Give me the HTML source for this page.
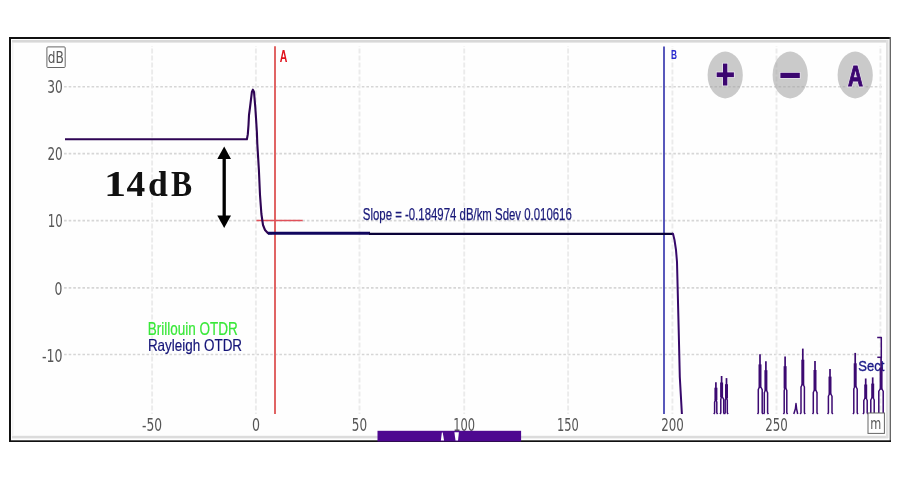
<!DOCTYPE html>
<html><head><meta charset="utf-8">
<style>
html,body{margin:0;padding:0;background:#fff;width:900px;height:479px;overflow:hidden}
svg{display:block;position:absolute;left:0;top:0}
</style></head><body>
<svg width="900" height="479" viewBox="0 0 900 479" font-family="'Liberation Sans', Arial, sans-serif">
<!-- frame -->
<rect x="0" y="0" width="900" height="479" fill="#fff"/>
<rect x="12" y="43" width="875" height="393" fill="#fefefe"/>
<rect x="12" y="40" width="876" height="2.6" fill="#d8d8d8"/>
<rect x="12" y="435.8" width="876" height="2.6" fill="#dcdcdc"/>
<rect x="886" y="40" width="2.5" height="398" fill="#e0e0e0"/>
<rect x="12" y="43" width="1.5" height="393" fill="#f3f3f3"/>
<rect x="9" y="37" width="2" height="405" fill="#111"/>
<rect x="9" y="37" width="882" height="2" fill="#111"/>
<rect x="889.6" y="37" width="1.4" height="405" fill="#666"/>
<rect x="9" y="440.3" width="882" height="1.7" fill="#111"/>

<!-- grid -->
<g stroke="#d6d6d6" stroke-width="1.6" stroke-dasharray="2.6 1.98" fill="none">
<line x1="64.1" y1="86.8" x2="884" y2="86.8"/>
<line x1="64.1" y1="153.6" x2="884" y2="153.6"/>
<line x1="64.1" y1="220.6" x2="884" y2="220.6"/>
<line x1="64.1" y1="287.9" x2="884" y2="287.9"/>
<line x1="64.1" y1="354.5" x2="884" y2="354.5"/>
</g>
<g stroke="#ebebeb" stroke-width="1.9" stroke-dasharray="5 2" stroke-dashoffset="4.4" fill="none">
<line x1="152.1" y1="46" x2="152.1" y2="414"/>
<line x1="255.9" y1="46" x2="255.9" y2="414"/>
<line x1="359.5" y1="46" x2="359.5" y2="414"/>
<line x1="464.2" y1="46" x2="464.2" y2="414"/>
<line x1="568.1" y1="46" x2="568.1" y2="414"/>
<line x1="672.4" y1="46" x2="672.4" y2="414"/>
<line x1="776.5" y1="46" x2="776.5" y2="414"/>
<line x1="880.4" y1="46" x2="880.4" y2="414"/>
</g>

<!-- axis labels -->
<g fill="#555" font-size="18.3" font-family="'DejaVu Sans', sans-serif">
<g text-anchor="end">
<text x="62.7" y="92.7" textLength="15.5" lengthAdjust="spacingAndGlyphs">30</text>
<text x="62.7" y="159.5" textLength="15.3" lengthAdjust="spacingAndGlyphs">20</text>
<text x="62.7" y="227" textLength="15" lengthAdjust="spacingAndGlyphs">10</text>
<text x="62.5" y="295.1" textLength="7.9" lengthAdjust="spacingAndGlyphs">0</text>
<text x="62.5" y="361.6" textLength="20.5" lengthAdjust="spacingAndGlyphs">-10</text>
</g>
<g text-anchor="middle">
<text x="152" y="430.8" textLength="20" lengthAdjust="spacingAndGlyphs">-50</text>
<text x="255.9" y="430.8" textLength="8" lengthAdjust="spacingAndGlyphs">0</text>
<text x="359.5" y="430.8" textLength="15.3" lengthAdjust="spacingAndGlyphs">50</text>
<text x="464.1" y="430.8" textLength="21.8" lengthAdjust="spacingAndGlyphs">100</text>
<text x="567.8" y="430.8" textLength="21.8" lengthAdjust="spacingAndGlyphs">150</text>
<text x="672.5" y="430.8" textLength="22.6" lengthAdjust="spacingAndGlyphs">200</text>
<text x="776.5" y="430.8" textLength="22.6" lengthAdjust="spacingAndGlyphs">250</text>
</g>
</g>
<!-- dB box -->
<rect x="46.9" y="46.9" width="18.3" height="20.6" rx="1" fill="none" stroke="#666" stroke-width="1"/>
<text x="47.8" y="62.6" font-size="16.5" font-family="'DejaVu Sans', sans-serif" fill="#555" textLength="16" lengthAdjust="spacingAndGlyphs">dB</text>

<!-- markers -->
<line x1="275" y1="46.3" x2="275" y2="414" stroke="#e06464" stroke-width="2"/>
<text x="279.8" y="61.9" font-size="16.5" font-weight="bold" fill="#e0101a" textLength="7.6" lengthAdjust="spacingAndGlyphs">A</text>
<line x1="664" y1="46.6" x2="664" y2="414" stroke="#4646b4" stroke-width="1.8"/>
<text x="671" y="58.8" font-size="12.5" font-weight="bold" fill="#2a2ad0" textLength="6" lengthAdjust="spacingAndGlyphs">B</text>
<line x1="256.4" y1="220.4" x2="302.7" y2="220.4" stroke="#e0505a" stroke-width="1.5"/>

<!-- trace -->
<polyline fill="none" stroke="#2e0454" stroke-width="2.1" stroke-linejoin="round"
 points="65,139.2 246.9,139.2 247.8,134.4 248.5,125 249,115 250,107.5 251.9,91.9 252.9,89.6 254,91.9 255.3,107.5 256,118 256.9,132.5 257.3,143.8 258.9,170 260,195 261.4,214 263,225 265,230 268,233.2 272,233.2"/>
<line x1="268" y1="233.2" x2="370" y2="233.2" stroke="#10065e" stroke-width="3"/>
<polyline fill="none" stroke="#0a0238" stroke-width="2.2" stroke-linejoin="round"
 points="369,233.9 673,233.9"/>
<polyline fill="none" stroke="#36086a" stroke-width="2" stroke-linejoin="round"
 points="672,233.8 673,233.8 674.5,240 676,250 677,262 678.7,330 679.8,377 681.9,414"/>

<!-- Sect -->
<text x="858.3" y="371.4" font-size="15" fill="#1a1a88" stroke="#1a1a88" stroke-width="0.35" textLength="26" lengthAdjust="spacingAndGlyphs">Sect</text>

<!-- noise spikes -->
<g fill="none" stroke="#3c0a72" stroke-width="1.5" stroke-linejoin="round">
<path d="M713.8,414 L714.6,412.8 L714.6,402.2 Q715.9,397.2 716.8,402.2 L716.8,412.8 L717.6,414"/>
<line x1="715.9" y1="400.2" x2="715.9" y2="387.7" stroke-width="3"/>
<line x1="715.9" y1="388.7" x2="715.9" y2="382.3" stroke-width="1.7"/>
<path d="M720.0,414 L720.8,412.8 L720.8,399.4 Q721.6,394.4 723.7,399.4 L723.7,412.8 L724.5,414"/>
<line x1="721.6" y1="397.4" x2="721.6" y2="382.5" stroke-width="3"/>
<line x1="721.6" y1="383.5" x2="721.6" y2="376.0" stroke-width="1.7"/>
<path d="M724.4,414 L725.2,412.8 L725.2,400.3 Q726.5,395.3 727.3,400.3 L727.3,412.8 L728.1,414"/>
<line x1="726.5" y1="398.3" x2="726.5" y2="384.2" stroke-width="3"/>
<line x1="726.5" y1="385.2" x2="726.5" y2="378.1" stroke-width="1.7"/>
<path d="M757.5,414 L758.3,412.8 L758.3,389.6 Q760.0,384.6 762.2,389.6 L762.2,412.8 L763.0,414"/>
<line x1="760.0" y1="387.6" x2="760.0" y2="364.4" stroke-width="3"/>
<line x1="760.0" y1="365.4" x2="760.0" y2="354.3" stroke-width="1.7"/>
<path d="M763.5,414 L764.3,412.8 L764.3,392.7 Q765.9,387.7 767.6,392.7 L767.6,412.8 L768.4,414"/>
<line x1="765.9" y1="390.7" x2="765.9" y2="370.2" stroke-width="3"/>
<line x1="765.9" y1="371.2" x2="765.9" y2="361.2" stroke-width="1.7"/>
<path d="M783.4,414 L784.2,412.8 L784.2,390.6 Q785.1,385.6 786.8,390.6 L786.8,412.8 L787.6,414"/>
<line x1="785.1" y1="388.6" x2="785.1" y2="366.2" stroke-width="3"/>
<line x1="785.1" y1="367.2" x2="785.1" y2="356.4" stroke-width="1.7"/>
<polyline points="793.8,414 795.4,408.8 796.0,403.5 796.6,408.8 797.7,414"/>
<path d="M800.2,414 L801.0,412.8 L801.0,387.1 Q802.8,382.1 804.4,387.1 L804.4,412.8 L805.2,414"/>
<line x1="802.8" y1="385.1" x2="802.8" y2="359.7" stroke-width="3"/>
<line x1="802.8" y1="360.7" x2="802.8" y2="348.6" stroke-width="1.7"/>
<path d="M812.5,414 L813.3,412.8 L813.3,392.6 Q815.0,387.6 817.0,392.6 L817.0,412.8 L817.8,414"/>
<line x1="815.0" y1="390.6" x2="815.0" y2="370.0" stroke-width="3"/>
<line x1="815.0" y1="371.0" x2="815.0" y2="361.0" stroke-width="1.7"/>
<path d="M827.6,414 L828.4,412.8 L828.4,396.2 Q830.0,391.2 832.0,396.2 L832.0,412.8 L832.8,414"/>
<line x1="830.0" y1="394.2" x2="830.0" y2="376.6" stroke-width="3"/>
<line x1="830.0" y1="377.6" x2="830.0" y2="369.0" stroke-width="1.7"/>
<path d="M853.0,414 L853.8,412.8 L853.8,389.0 Q855.2,384.0 857.2,389.0 L857.2,412.8 L858.0,414"/>
<line x1="855.2" y1="387.0" x2="855.2" y2="363.3" stroke-width="3"/>
<line x1="855.2" y1="364.3" x2="855.2" y2="352.9" stroke-width="1.7"/>
<path d="M863.0,414 L863.8,412.8 L863.8,400.5 Q865.7,395.5 867.2,400.5 L867.2,412.8 L868.0,414"/>
<line x1="865.7" y1="398.5" x2="865.7" y2="384.5" stroke-width="3"/>
<line x1="865.7" y1="385.5" x2="865.7" y2="378.5" stroke-width="1.7"/>
<path d="M870.0,414 L870.8,412.8 L870.8,400.0 Q872.7,395.0 874.2,400.0 L874.2,412.8 L875.0,414"/>
<line x1="872.7" y1="398.0" x2="872.7" y2="383.6" stroke-width="3"/>
<line x1="872.7" y1="384.6" x2="872.7" y2="377.4" stroke-width="1.7"/>
<path d="M878.0,414 L878.8,412.8 L878.8,391.2 Q881.1,386.2 883.2,391.2 L883.2,412.8 L884.0,414"/>
<line x1="881.1" y1="389.2" x2="881.1" y2="367.4" stroke-width="3"/>
<line x1="881.1" y1="368.4" x2="881.1" y2="357.8" stroke-width="1.7"/>
<polyline points="877.2,337.4 881.3,337.4 881.3,358"/>
<polyline points="877.3,357.3 881.1,357.3"/>
</g>

<!-- m box -->
<rect x="868" y="413" width="16.4" height="20.4" fill="#fff" stroke="#666" stroke-width="1"/>
<text x="870.2" y="428.8" font-size="16.5" font-family="'DejaVu Sans', sans-serif" fill="#555" textLength="11" lengthAdjust="spacingAndGlyphs">m</text>

<!-- legend -->
<text x="147.8" y="334.5" font-size="18" fill="#38e838" stroke="#38e838" stroke-width="0.2" textLength="90" lengthAdjust="spacingAndGlyphs">Brillouin OTDR</text>
<text x="147.9" y="351.4" font-size="16.5" fill="#141478" stroke="#141478" stroke-width="0.2" textLength="94.2" lengthAdjust="spacingAndGlyphs">Rayleigh OTDR</text>
<!-- slope -->
<text x="362.8" y="220.4" font-size="16.8" fill="#1a1a7a" stroke="#1a1a7a" stroke-width="0.25" textLength="209" lengthAdjust="spacingAndGlyphs">Slope = -0.184974 dB/km Sdev 0.010616</text>

<!-- 14dB -->
<g font-family="'Liberation Serif', serif" font-weight="bold" font-size="36" fill="#111">
<text transform="translate(104,195.9) scale(1.23,1)">1</text>
<text transform="translate(126.6,195.9) scale(1.04,1)">4</text>
<text transform="translate(147.9,195.9) scale(0.99,1)">d</text>
<text transform="translate(171,195.9) scale(0.88,1)">B</text>
</g>
<line x1="224.2" y1="157" x2="224.2" y2="217" stroke="#000" stroke-width="3.3"/>
<polygon points="224.2,146.5 217.3,159 231,159" fill="#000"/>
<polygon points="224.2,228 217.3,215.4 231,215.4" fill="#000"/>

<!-- buttons -->
<g fill="#a2a2a2" fill-opacity="0.57">
<ellipse cx="725.2" cy="75" rx="17.6" ry="23.4"/>
<ellipse cx="790.2" cy="75" rx="17.6" ry="23.4"/>
<ellipse cx="855.2" cy="75" rx="17.6" ry="23.4"/>
</g>
<g fill="none" stroke="#ece4f2" stroke-width="1.6" stroke-opacity="0.85">
<path d="M716.7,72.4 h6.3 v-8.8 h4.3 v8.8 h6.6 v4.7 h-6.6 v8.4 h-4.3 v-8.4 h-6.3 z"/>
<rect x="780.4" y="72.8" width="19.4" height="5.2"/>
</g>
<rect x="716.7" y="72.4" width="17.2" height="4.7" fill="#3c0670"/>
<rect x="723" y="63.6" width="4.3" height="21.9" fill="#3c0670"/>
<rect x="780.4" y="72.8" width="19.4" height="5.2" fill="#3c0670"/>
<text x="848.1" y="85.5" font-size="29" font-weight="bold" fill="none" stroke="#ece4f2" stroke-opacity="0.85" stroke-width="2.8" textLength="14.9" lengthAdjust="spacingAndGlyphs">A</text>
<text x="848.1" y="85.5" font-size="29" font-weight="bold" fill="#3c0670" stroke="#3c0670" stroke-width="1.1" textLength="14.9" lengthAdjust="spacingAndGlyphs">A</text>

<!-- bottom scroll bar -->
<rect x="377.5" y="430.8" width="143.6" height="10.7" fill="#4e0890"/>
<polygon points="441.9,432.6 442.7,432.6 444.1,440.5 440.9,440.5" fill="#fff"/>
<polygon points="454.4,432.2 458.9,432.2 458,440.5 455.5,440.5" fill="#fff"/>
</svg>
</body></html>
